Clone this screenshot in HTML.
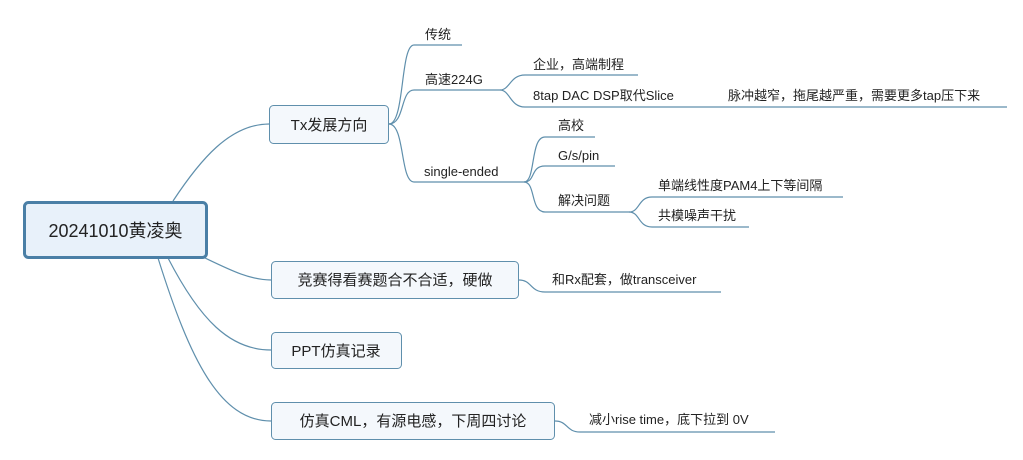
<!DOCTYPE html>
<html><head><meta charset="utf-8"><style>
html,body{margin:0;padding:0;background:#fff;width:1023px;height:460px;overflow:hidden}
svg text{font-family:"Liberation Sans","Noto Sans CJK SC",sans-serif;fill:#222}
</style></head><body>
<svg width="1023" height="460" viewBox="0 0 1023 460" xmlns="http://www.w3.org/2000/svg">
<g fill="none" stroke="#5f8fac" stroke-width="1.2">
<!-- root to branches -->
<path d="M173 201 C200 160,230 124,269 124"/>
<path d="M205 258 C230 270,250 280,271 280"/>
<path d="M168 258 C200 320,230 350,271 350"/>
<path d="M158 258 C190 360,220 421,271 421"/>
<!-- Tx children -->
<path d="M389 124 C405 124,400 45,414 45 L462 45"/>
<path d="M389 124 C405 124,400 90,414 90 L500 90"/>
<path d="M389 124 C405 124,400 182,414 182 L524 182"/>
<!-- 高速 children -->
<path d="M500 90 C510 90,510 75,525 75 L638 75"/>
<path d="M500 90 C510 90,510 107,525 107 L1007 107"/>
<!-- single children -->
<path d="M524 182 C536 182,530 137,545 137 L595 137"/>
<path d="M524 182 C536 182,530 166,545 166 L615 166"/>
<path d="M524 182 C536 182,530 212,545 212 L629 212"/>
<!-- 解决 children -->
<path d="M629 212 C640 212,638 197,652 197 L843 197"/>
<path d="M629 212 C640 212,638 227,652 227 L749 227"/>
<!-- other -->
<path d="M519 280 C532 280,530 292,545 292 L721 292"/>
<path d="M555 421 C568 421,566 432,580 432 L775 432"/>
</g>
<!-- root -->
<rect x="24.5" y="202.5" width="182" height="55" rx="4" fill="#e8f1fa" stroke="#4a7fa6" stroke-width="3"/>
<text x="115.5" y="237" font-size="18" text-anchor="middle">20241010黄凌奥</text>
<!-- branches -->
<g fill="#f4f8fc" stroke="#5f8fac" stroke-width="1">
<rect x="269.5" y="105.5" width="119" height="38" rx="4"/>
<rect x="271.5" y="261.5" width="247" height="37" rx="4"/>
<rect x="271.5" y="332.5" width="130" height="36" rx="4"/>
<rect x="271.5" y="402.5" width="283" height="37" rx="4"/>
</g>
<g font-size="15">
<text x="329" y="130" text-anchor="middle">Tx发展方向</text>
<text x="395" y="285" text-anchor="middle">竞赛得看赛题合不合适，硬做</text>
<text x="336" y="356" text-anchor="middle">PPT仿真记录</text>
<text x="413" y="426" text-anchor="middle">仿真CML，有源电感，下周四讨论</text>
</g>
<g font-size="13">
<text x="425" y="39">传统</text>
<text x="425" y="84">高速224G</text>
<text x="424" y="176">single-ended</text>
<text x="533" y="69">企业，高端制程</text>
<text x="533" y="100">8tap DAC DSP取代Slice</text>
<text x="728" y="100">脉冲越窄，拖尾越严重，需要更多tap压下来</text>
<text x="558" y="130">高校</text>
<text x="558" y="160">G/s/pin</text>
<text x="558" y="205">解决问题</text>
<text x="658" y="190">单端线性度PAM4上下等间隔</text>
<text x="658" y="220">共模噪声干扰</text>
<text x="552" y="284">和Rx配套，做transceiver</text>
<text x="589" y="424">减小rise time，底下拉到 0V</text>
</g>
</svg>
</body></html>
